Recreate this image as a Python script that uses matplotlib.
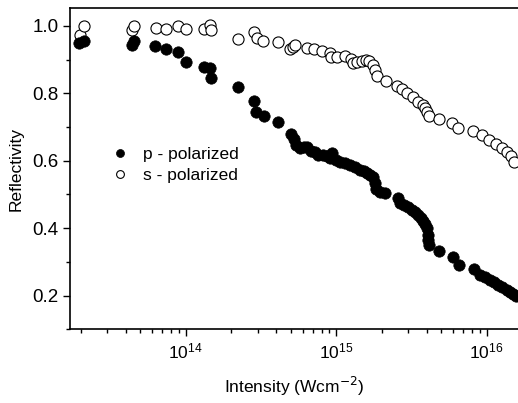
import matplotlib
matplotlib.use("Agg")
import matplotlib.pyplot as plt
from matplotlib.ticker import LogLocator, MultipleLocator, NullFormatter
import numpy as np

plt.rcParams['font.family'] = ['Liberation Sans', 'DejaVu Sans']

# p-polarized (filled)
p_intensity = [1.95e13, 2.11e13, 4.40e13, 4.54e13, 6.25e13, 7.40e13, 8.89e13, 1.00e14,
               1.32e14, 1.45e14, 1.47e14, 2.23e14, 2.84e14, 2.93e14, 3.31e14, 4.10e14,
               5.01e14, 5.25e14, 5.41e14, 5.74e14, 6.11e14, 6.40e14, 6.80e14, 7.23e14,
               7.57e14, 8.17e14, 8.69e14, 9.10e14, 9.38e14, 9.97e14, 1.06e15, 1.14e15,
               1.24e15, 1.33e15, 1.44e15, 1.53e15, 1.60e15, 1.68e15, 1.76e15, 1.81e15,
               1.84e15, 1.96e15, 2.11e15, 2.58e15, 2.65e15, 2.82e15, 3.00e15, 3.19e15,
               3.34e15, 3.50e15, 3.66e15, 3.78e15, 3.89e15, 4.01e15, 4.07e15, 4.07e15,
               4.14e15, 4.82e15, 5.97e15, 6.55e15, 8.24e15, 9.03e15, 9.75e15, 1.05e16,
               1.12e16, 1.19e16, 1.26e16, 1.36e16, 1.43e16, 1.50e16, 1.57e16]
p_reflect = [0.950, 0.955, 0.944, 0.955, 0.941, 0.932, 0.923, 0.893,
             0.878, 0.875, 0.846, 0.819, 0.777, 0.745, 0.733, 0.715,
             0.680, 0.665, 0.647, 0.638, 0.641, 0.641, 0.629, 0.626,
             0.617, 0.617, 0.614, 0.608, 0.623, 0.602, 0.596, 0.593,
             0.588, 0.582, 0.573, 0.570, 0.564, 0.558, 0.552, 0.534,
             0.516, 0.507, 0.504, 0.490, 0.475, 0.469, 0.463, 0.454,
             0.448, 0.439, 0.430, 0.421, 0.412, 0.401, 0.380, 0.365,
             0.350, 0.332, 0.315, 0.291, 0.279, 0.261, 0.255, 0.246,
             0.240, 0.231, 0.226, 0.217, 0.211, 0.205, 0.199]

# s-polarized (open)
s_intensity = [1.99e13, 2.11e13, 4.40e13, 4.54e13, 6.35e13, 7.40e13, 8.89e13, 1.00e14,
               1.32e14, 1.45e14, 1.47e14, 2.23e14, 2.84e14, 2.98e14, 3.26e14, 4.10e14,
               4.93e14, 5.17e14, 5.33e14, 6.40e14, 7.12e14, 8.05e14, 9.10e14, 9.25e14,
               1.01e15, 1.14e15, 1.25e15, 1.29e15, 1.37e15, 1.48e15, 1.58e15, 1.65e15,
               1.76e15, 1.81e15, 1.87e15, 2.14e15, 2.54e15, 2.74e15, 2.95e15, 3.24e15,
               3.50e15, 3.78e15, 3.89e15, 4.01e15, 4.14e15, 4.82e15, 5.88e15, 6.44e15,
               8.11e15, 9.30e15, 1.04e16, 1.15e16, 1.26e16, 1.36e16, 1.45e16, 1.52e16]
s_reflect = [0.973, 1.000, 0.988, 1.000, 0.994, 0.991, 1.000, 0.991,
             0.991, 1.003, 0.988, 0.961, 0.982, 0.964, 0.955, 0.953,
             0.932, 0.938, 0.944, 0.935, 0.932, 0.926, 0.920, 0.908,
             0.908, 0.911, 0.902, 0.890, 0.893, 0.896, 0.899, 0.896,
             0.884, 0.869, 0.852, 0.837, 0.822, 0.813, 0.801, 0.789,
             0.774, 0.766, 0.757, 0.745, 0.733, 0.724, 0.712, 0.697,
             0.688, 0.677, 0.662, 0.650, 0.638, 0.626, 0.614, 0.596]

y_ticks = [0.2, 0.4, 0.6, 0.8, 1.0]

fig = plt.figure(figsize=(5.18, 4.03), dpi=100)
ax = fig.add_axes([0.1357, 0.1829, 1 - 0.1357, 0.9794 - 0.1829])

ax.plot(s_intensity, s_reflect, linestyle='none', marker='o', markersize=8,
        markerfacecolor='white', markeredgecolor='black', markeredgewidth=0.8,
        label='s - polarized', zorder=2)
ax.plot(p_intensity, p_reflect, linestyle='none', marker='o', markersize=8.2,
        markerfacecolor='black', markeredgecolor='black', markeredgewidth=0.5,
        label='p - polarized', zorder=3)

ax.set_xscale('log')
ax.set_xlim(10 ** 13.233, 10 ** 16.208)
ax.set_ylim(0.1, 1.0525)
ax.set_yticks(y_ticks)
ax.set_yticklabels([f"{v:.1f}" for v in y_ticks])
ax.yaxis.set_minor_locator(MultipleLocator(0.1))
ax.xaxis.set_major_locator(LogLocator(base=10, numticks=10))
ax.xaxis.set_minor_locator(LogLocator(base=10, subs=np.arange(2, 10), numticks=20))
ax.xaxis.set_minor_formatter(NullFormatter())

ax.spines['right'].set_visible(False)
for s in ['left', 'bottom', 'top']:
    ax.spines[s].set_linewidth(1.2)
ax.tick_params(which='major', direction='out', length=5, width=1, labelsize=12.5,
               top=False, right=False)
ax.tick_params(axis='y', which='major', labelsize=13.5)
ax.tick_params(which='minor', direction='out', length=3, width=1,
               top=False, right=False)

ax.set_xlabel('Intensity (Wcm$^{-2}$)', fontsize=12.5, labelpad=10)
ax.set_ylabel('Reflectivity', fontsize=12.5, labelpad=6)

handles, labels = ax.get_legend_handles_labels()
leg = ax.legend(handles[::-1], labels[::-1], loc='upper left',
                bbox_to_anchor=(0.052, 0.616), frameon=False, fontsize=12.5,
                markerscale=0.7, handlelength=1.2, handletextpad=0.75,
                labelspacing=0.3)

fig.savefig('out.png', dpi=100)
